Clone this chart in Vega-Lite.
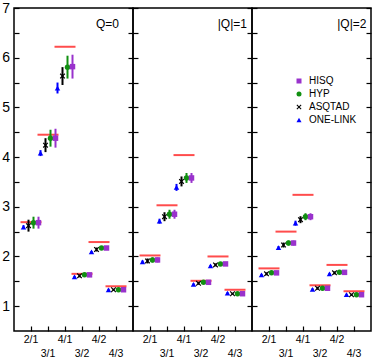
{
  "$schema": "https://vega.github.io/schema/vega-lite/v6.json",
  "padding": {"left": 0, "top": 0, "right": 0, "bottom": 0},
  "spacing": 0,
  "bounds": "flush",
  "config": {
    "font": "Liberation Sans",
    "view": {"stroke": "black", "strokeWidth": 1.5},
    "axis": {"labelColor": "black", "tickColor": "black", "tickWidth": 1.2, "grid": false, "domain": false, "title": null}
  },
  "resolve": {"scale": {"color": "independent", "shape": "independent"}, "legend": {"color": "independent", "shape": "independent"}},
  "datasets": {
    "cont": [
      {"p": "Q=0", "cat": "2/1", "v": 2.69}, {"p": "Q=0", "cat": "3/1", "v": 4.45}, {"p": "Q=0", "cat": "4/1", "v": 6.22},
      {"p": "Q=0", "cat": "3/2", "v": 1.65}, {"p": "Q=0", "cat": "4/2", "v": 2.29}, {"p": "Q=0", "cat": "4/3", "v": 1.40},
      {"p": "Q1", "cat": "2/1", "v": 2.02}, {"p": "Q1", "cat": "3/1", "v": 3.03}, {"p": "Q1", "cat": "4/1", "v": 4.04},
      {"p": "Q1", "cat": "3/2", "v": 1.51}, {"p": "Q1", "cat": "4/2", "v": 2.00}, {"p": "Q1", "cat": "4/3", "v": 1.33},
      {"p": "Q2", "cat": "2/1", "v": 1.76}, {"p": "Q2", "cat": "3/1", "v": 2.50}, {"p": "Q2", "cat": "4/1", "v": 3.24},
      {"p": "Q2", "cat": "3/2", "v": 1.42}, {"p": "Q2", "cat": "4/2", "v": 1.83}, {"p": "Q2", "cat": "4/3", "v": 1.30}
    ],
    "pts": [
      {"p": "Q=0", "cat": "2/1", "lat": "ONE-LINK", "v": 2.59, "lo": 2.55, "hi": 2.63},
      {"p": "Q=0", "cat": "2/1", "lat": "ASQTAD", "v": 2.62, "lo": 2.50, "hi": 2.74},
      {"p": "Q=0", "cat": "2/1", "lat": "HYP", "v": 2.68, "lo": 2.56, "hi": 2.80},
      {"p": "Q=0", "cat": "2/1", "lat": "HISQ", "v": 2.68, "lo": 2.56, "hi": 2.80},
      {"p": "Q=0", "cat": "3/1", "lat": "ONE-LINK", "v": 4.08, "lo": 4.02, "hi": 4.14},
      {"p": "Q=0", "cat": "3/1", "lat": "ASQTAD", "v": 4.24, "lo": 4.10, "hi": 4.38},
      {"p": "Q=0", "cat": "3/1", "lat": "HYP", "v": 4.38, "lo": 4.21, "hi": 4.55},
      {"p": "Q=0", "cat": "3/1", "lat": "HISQ", "v": 4.38, "lo": 4.19, "hi": 4.57},
      {"p": "Q=0", "cat": "4/1", "lat": "ONE-LINK", "v": 5.39, "lo": 5.28, "hi": 5.50},
      {"p": "Q=0", "cat": "4/1", "lat": "ASQTAD", "v": 5.63, "lo": 5.45, "hi": 5.81},
      {"p": "Q=0", "cat": "4/1", "lat": "HYP", "v": 5.81, "lo": 5.58, "hi": 6.04},
      {"p": "Q=0", "cat": "4/1", "lat": "HISQ", "v": 5.82, "lo": 5.58, "hi": 6.06},
      {"p": "Q=0", "cat": "3/2", "lat": "ONE-LINK", "v": 1.59, "lo": 1.57, "hi": 1.61},
      {"p": "Q=0", "cat": "3/2", "lat": "ASQTAD", "v": 1.61, "lo": 1.58, "hi": 1.64},
      {"p": "Q=0", "cat": "3/2", "lat": "HYP", "v": 1.63, "lo": 1.60, "hi": 1.66},
      {"p": "Q=0", "cat": "3/2", "lat": "HISQ", "v": 1.63, "lo": 1.60, "hi": 1.66},
      {"p": "Q=0", "cat": "4/2", "lat": "ONE-LINK", "v": 2.09, "lo": 2.07, "hi": 2.11},
      {"p": "Q=0", "cat": "4/2", "lat": "ASQTAD", "v": 2.14, "lo": 2.10, "hi": 2.18},
      {"p": "Q=0", "cat": "4/2", "lat": "HYP", "v": 2.17, "lo": 2.13, "hi": 2.21},
      {"p": "Q=0", "cat": "4/2", "lat": "HISQ", "v": 2.17, "lo": 2.13, "hi": 2.21},
      {"p": "Q=0", "cat": "4/3", "lat": "ONE-LINK", "v": 1.33, "lo": 1.31, "hi": 1.35},
      {"p": "Q=0", "cat": "4/3", "lat": "ASQTAD", "v": 1.33, "lo": 1.31, "hi": 1.35},
      {"p": "Q=0", "cat": "4/3", "lat": "HYP", "v": 1.33, "lo": 1.30, "hi": 1.36},
      {"p": "Q=0", "cat": "4/3", "lat": "HISQ", "v": 1.33, "lo": 1.30, "hi": 1.36},

      {"p": "Q1", "cat": "2/1", "lat": "ONE-LINK", "v": 1.89, "lo": 1.86, "hi": 1.92},
      {"p": "Q1", "cat": "2/1", "lat": "ASQTAD", "v": 1.91, "lo": 1.86, "hi": 1.96},
      {"p": "Q1", "cat": "2/1", "lat": "HYP", "v": 1.93, "lo": 1.88, "hi": 1.98},
      {"p": "Q1", "cat": "2/1", "lat": "HISQ", "v": 1.93, "lo": 1.88, "hi": 1.98},
      {"p": "Q1", "cat": "3/1", "lat": "ONE-LINK", "v": 2.71, "lo": 2.66, "hi": 2.76},
      {"p": "Q1", "cat": "3/1", "lat": "ASQTAD", "v": 2.80, "lo": 2.71, "hi": 2.89},
      {"p": "Q1", "cat": "3/1", "lat": "HYP", "v": 2.85, "lo": 2.76, "hi": 2.94},
      {"p": "Q1", "cat": "3/1", "lat": "HISQ", "v": 2.85, "lo": 2.76, "hi": 2.94},
      {"p": "Q1", "cat": "4/1", "lat": "ONE-LINK", "v": 3.39, "lo": 3.32, "hi": 3.46},
      {"p": "Q1", "cat": "4/1", "lat": "ASQTAD", "v": 3.51, "lo": 3.41, "hi": 3.61},
      {"p": "Q1", "cat": "4/1", "lat": "HYP", "v": 3.58, "lo": 3.48, "hi": 3.68},
      {"p": "Q1", "cat": "4/1", "lat": "HISQ", "v": 3.58, "lo": 3.48, "hi": 3.68},
      {"p": "Q1", "cat": "3/2", "lat": "ONE-LINK", "v": 1.44, "lo": 1.42, "hi": 1.46},
      {"p": "Q1", "cat": "3/2", "lat": "ASQTAD", "v": 1.46, "lo": 1.43, "hi": 1.49},
      {"p": "Q1", "cat": "3/2", "lat": "HYP", "v": 1.48, "lo": 1.45, "hi": 1.51},
      {"p": "Q1", "cat": "3/2", "lat": "HISQ", "v": 1.48, "lo": 1.45, "hi": 1.51},
      {"p": "Q1", "cat": "4/2", "lat": "ONE-LINK", "v": 1.81, "lo": 1.79, "hi": 1.83},
      {"p": "Q1", "cat": "4/2", "lat": "ASQTAD", "v": 1.83, "lo": 1.80, "hi": 1.86},
      {"p": "Q1", "cat": "4/2", "lat": "HYP", "v": 1.85, "lo": 1.82, "hi": 1.88},
      {"p": "Q1", "cat": "4/2", "lat": "HISQ", "v": 1.85, "lo": 1.82, "hi": 1.88},
      {"p": "Q1", "cat": "4/3", "lat": "ONE-LINK", "v": 1.26, "lo": 1.24, "hi": 1.28},
      {"p": "Q1", "cat": "4/3", "lat": "ASQTAD", "v": 1.25, "lo": 1.23, "hi": 1.27},
      {"p": "Q1", "cat": "4/3", "lat": "HYP", "v": 1.25, "lo": 1.22, "hi": 1.28},
      {"p": "Q1", "cat": "4/3", "lat": "HISQ", "v": 1.25, "lo": 1.22, "hi": 1.28},

      {"p": "Q2", "cat": "2/1", "lat": "ONE-LINK", "v": 1.63, "lo": 1.61, "hi": 1.65},
      {"p": "Q2", "cat": "2/1", "lat": "ASQTAD", "v": 1.65, "lo": 1.62, "hi": 1.68},
      {"p": "Q2", "cat": "2/1", "lat": "HYP", "v": 1.67, "lo": 1.64, "hi": 1.70},
      {"p": "Q2", "cat": "2/1", "lat": "HISQ", "v": 1.67, "lo": 1.64, "hi": 1.70},
      {"p": "Q2", "cat": "3/1", "lat": "ONE-LINK", "v": 2.18, "lo": 2.15, "hi": 2.21},
      {"p": "Q2", "cat": "3/1", "lat": "ASQTAD", "v": 2.23, "lo": 2.18, "hi": 2.28},
      {"p": "Q2", "cat": "3/1", "lat": "HYP", "v": 2.27, "lo": 2.22, "hi": 2.32},
      {"p": "Q2", "cat": "3/1", "lat": "HISQ", "v": 2.27, "lo": 2.22, "hi": 2.32},
      {"p": "Q2", "cat": "4/1", "lat": "ONE-LINK", "v": 2.67, "lo": 2.62, "hi": 2.72},
      {"p": "Q2", "cat": "4/1", "lat": "ASQTAD", "v": 2.74, "lo": 2.67, "hi": 2.81},
      {"p": "Q2", "cat": "4/1", "lat": "HYP", "v": 2.80, "lo": 2.73, "hi": 2.87},
      {"p": "Q2", "cat": "4/1", "lat": "HISQ", "v": 2.80, "lo": 2.73, "hi": 2.87},
      {"p": "Q2", "cat": "3/2", "lat": "ONE-LINK", "v": 1.34, "lo": 1.32, "hi": 1.36},
      {"p": "Q2", "cat": "3/2", "lat": "ASQTAD", "v": 1.36, "lo": 1.33, "hi": 1.39},
      {"p": "Q2", "cat": "3/2", "lat": "HYP", "v": 1.36, "lo": 1.33, "hi": 1.39},
      {"p": "Q2", "cat": "3/2", "lat": "HISQ", "v": 1.36, "lo": 1.33, "hi": 1.39},
      {"p": "Q2", "cat": "4/2", "lat": "ONE-LINK", "v": 1.65, "lo": 1.63, "hi": 1.67},
      {"p": "Q2", "cat": "4/2", "lat": "ASQTAD", "v": 1.67, "lo": 1.64, "hi": 1.70},
      {"p": "Q2", "cat": "4/2", "lat": "HYP", "v": 1.68, "lo": 1.65, "hi": 1.71},
      {"p": "Q2", "cat": "4/2", "lat": "HISQ", "v": 1.68, "lo": 1.65, "hi": 1.71},
      {"p": "Q2", "cat": "4/3", "lat": "ONE-LINK", "v": 1.23, "lo": 1.21, "hi": 1.25},
      {"p": "Q2", "cat": "4/3", "lat": "ASQTAD", "v": 1.23, "lo": 1.21, "hi": 1.25},
      {"p": "Q2", "cat": "4/3", "lat": "HYP", "v": 1.23, "lo": 1.20, "hi": 1.26},
      {"p": "Q2", "cat": "4/3", "lat": "HISQ", "v": 1.23, "lo": 1.20, "hi": 1.26}
    ]
  },
  "hconcat": [
    {
      "width": 119, "height": 323,
      "resolve": {"axis": {"y": "independent"}},
      "layer": [
        {
          "data": {"name": "cont"}, "transform": [{"filter": "datum.p == 'Q=0'"}],
          "mark": {"type": "tick", "color": "#ff0000", "size": 21, "thickness": 2},
          "encoding": {
            "x": {"field": "cat", "type": "nominal", "scale": {"type": "band", "domain": ["2/1","3/1","4/1","3/2","4/2","4/3"], "paddingInner": 0, "paddingOuter": 0.5},
              "axis": {"title": null, "bandPosition": 0.5, "tickSize": -5, "labelPadding": 8, "labelFontSize": 10.5, "labelLineHeight": 14, "labelAngle": 0, "labelExpr": "indexof(['3/1','3/2','4/3'], datum.value) >= 0 ? ['', datum.label] : datum.label"}},
            "y": {"field": "v", "type": "quantitative", "scale": {"domain": [0.5, 7], "nice": false, "zero": false},
              "axis": {"orient": "left", "title": null, "values": [1,1.5,2,2.5,3,3.5,4,4.5,5,5.5,6,6.5,7], "tickSize": -5, "labelPadding": 9.5, "labelFontSize": 14, "labelOverlap": false, "labelExpr": "datum.value % 1 == 0 ? format(datum.value, 'd') : ''"}}
          }
        },
        {
          "data": {"name": "pts"}, "transform": [{"filter": "datum.p == 'Q=0'"}],
          "mark": {"type": "rule", "strokeWidth": 2},
          "encoding": {
            "x": {"field": "cat", "type": "nominal"},
            "xOffset": {"field": "lat", "type": "nominal", "scale": {"type": "point", "padding": 0.2, "domain": ["ONE-LINK","ASQTAD","HYP","HISQ"]}},
            "y": {"field": "lo", "type": "quantitative", "axis": {"orient": "right", "title": null, "values": [1,1.5,2,2.5,3,3.5,4,4.5,5,5.5,6,6.5,7], "tickSize": -5, "labels": false}},
            "y2": {"field": "hi"},
            "stroke": {"field": "lat", "type": "nominal", "scale": {"domain": ["HISQ","HYP","ASQTAD","ONE-LINK"], "range": ["#9932cc","#119011","#000000","#0000ff"]}, "legend": null}
          }
        },
        {
          "data": {"name": "pts"}, "transform": [{"filter": "datum.p == 'Q=0'"}],
          "mark": {"type": "point", "filled": true, "opacity": 1, "size": 30},
          "encoding": {
            "x": {"field": "cat", "type": "nominal"},
            "xOffset": {"field": "lat", "type": "nominal"},
            "y": {"field": "v", "type": "quantitative", "axis": null},
            "color": {"field": "lat", "type": "nominal", "scale": {"domain": ["HISQ","HYP","ASQTAD","ONE-LINK"], "range": ["#9932cc","#119011","#000000","#0000ff"]}, "legend": null},
            "shape": {"field": "lat", "type": "nominal", "scale": {"domain": ["HISQ","HYP","ASQTAD","ONE-LINK"], "range": ["square","circle","M-0.7,-1L0,-0.3L0.7,-1L1,-0.7L0.3,0L1,0.7L0.7,1L0,0.3L-0.7,1L-1,0.7L-0.3,0L-1,-0.7Z","triangle-up"]}, "legend": null}
          }
        },
        {
          "data": {"values": [{"lab": "Q=0"}]},
          "mark": {"type": "text", "align": "right", "baseline": "middle", "fontSize": 12, "dx": 3, "color": "black"},
          "encoding": {
            "x": {"datum": "4/3", "type": "nominal"},
            "y": {"datum": 6.67, "type": "quantitative", "axis": null},
            "text": {"field": "lab"}
          }
        }
      ]
    },
    {
      "width": 119, "height": 323,
      "resolve": {"axis": {"y": "independent"}},
      "layer": [
        {
          "data": {"name": "cont"}, "transform": [{"filter": "datum.p == 'Q1'"}],
          "mark": {"type": "tick", "color": "#ff0000", "size": 21, "thickness": 2},
          "encoding": {
            "x": {"field": "cat", "type": "nominal", "scale": {"type": "band", "domain": ["2/1","3/1","4/1","3/2","4/2","4/3"], "paddingInner": 0, "paddingOuter": 0.5},
              "axis": {"title": null, "bandPosition": 0.5, "tickSize": -5, "labelPadding": 8, "labelFontSize": 10.5, "labelLineHeight": 14, "labelAngle": 0, "labelExpr": "indexof(['3/1','3/2','4/3'], datum.value) >= 0 ? ['', datum.label] : datum.label"}},
            "y": {"field": "v", "type": "quantitative", "scale": {"domain": [0.5, 7], "nice": false, "zero": false},
              "axis": {"orient": "left", "title": null, "values": [1,1.5,2,2.5,3,3.5,4,4.5,5,5.5,6,6.5,7], "tickSize": -5, "labels": false}}
          }
        },
        {
          "data": {"name": "pts"}, "transform": [{"filter": "datum.p == 'Q1'"}],
          "mark": {"type": "rule", "strokeWidth": 2},
          "encoding": {
            "x": {"field": "cat", "type": "nominal"},
            "xOffset": {"field": "lat", "type": "nominal", "scale": {"type": "point", "padding": 0.2, "domain": ["ONE-LINK","ASQTAD","HYP","HISQ"]}},
            "y": {"field": "lo", "type": "quantitative", "axis": {"orient": "right", "title": null, "values": [1,1.5,2,2.5,3,3.5,4,4.5,5,5.5,6,6.5,7], "tickSize": -5, "labels": false}},
            "y2": {"field": "hi"},
            "stroke": {"field": "lat", "type": "nominal", "scale": {"domain": ["HISQ","HYP","ASQTAD","ONE-LINK"], "range": ["#9932cc","#119011","#000000","#0000ff"]}, "legend": null}
          }
        },
        {
          "data": {"name": "pts"}, "transform": [{"filter": "datum.p == 'Q1'"}],
          "mark": {"type": "point", "filled": true, "opacity": 1, "size": 30},
          "encoding": {
            "x": {"field": "cat", "type": "nominal"},
            "xOffset": {"field": "lat", "type": "nominal"},
            "y": {"field": "v", "type": "quantitative", "axis": null},
            "color": {"field": "lat", "type": "nominal", "scale": {"domain": ["HISQ","HYP","ASQTAD","ONE-LINK"], "range": ["#9932cc","#119011","#000000","#0000ff"]}, "legend": null},
            "shape": {"field": "lat", "type": "nominal", "scale": {"domain": ["HISQ","HYP","ASQTAD","ONE-LINK"], "range": ["square","circle","M-0.7,-1L0,-0.3L0.7,-1L1,-0.7L0.3,0L1,0.7L0.7,1L0,0.3L-0.7,1L-1,0.7L-0.3,0L-1,-0.7Z","triangle-up"]}, "legend": null}
          }
        },
        {
          "data": {"values": [{"lab": "|Q|=1"}]},
          "mark": {"type": "text", "align": "right", "baseline": "middle", "fontSize": 12, "dx": 12, "color": "black"},
          "encoding": {
            "x": {"datum": "4/3", "type": "nominal"},
            "y": {"datum": 6.67, "type": "quantitative", "axis": null},
            "text": {"field": "lab"}
          }
        }
      ]
    },
    {
      "width": 119, "height": 323,
      "resolve": {"axis": {"y": "independent"}},
      "layer": [
        {
          "data": {"name": "cont"}, "transform": [{"filter": "datum.p == 'Q2'"}],
          "mark": {"type": "tick", "color": "#ff0000", "size": 21, "thickness": 2},
          "encoding": {
            "x": {"field": "cat", "type": "nominal", "scale": {"type": "band", "domain": ["2/1","3/1","4/1","3/2","4/2","4/3"], "paddingInner": 0, "paddingOuter": 0.5},
              "axis": {"title": null, "bandPosition": 0.5, "tickSize": -5, "labelPadding": 8, "labelFontSize": 10.5, "labelLineHeight": 14, "labelAngle": 0, "labelExpr": "indexof(['3/1','3/2','4/3'], datum.value) >= 0 ? ['', datum.label] : datum.label"}},
            "y": {"field": "v", "type": "quantitative", "scale": {"domain": [0.5, 7], "nice": false, "zero": false},
              "axis": {"orient": "left", "title": null, "values": [1,1.5,2,2.5,3,3.5,4,4.5,5,5.5,6,6.5,7], "tickSize": -5, "labels": false}}
          }
        },
        {
          "data": {"name": "pts"}, "transform": [{"filter": "datum.p == 'Q2'"}],
          "mark": {"type": "rule", "strokeWidth": 2},
          "encoding": {
            "x": {"field": "cat", "type": "nominal"},
            "xOffset": {"field": "lat", "type": "nominal", "scale": {"type": "point", "padding": 0.2, "domain": ["ONE-LINK","ASQTAD","HYP","HISQ"]}},
            "y": {"field": "lo", "type": "quantitative", "axis": {"orient": "right", "title": null, "values": [1,1.5,2,2.5,3,3.5,4,4.5,5,5.5,6,6.5,7], "tickSize": -5, "labels": false}},
            "y2": {"field": "hi"},
            "stroke": {"field": "lat", "type": "nominal", "scale": {"domain": ["HISQ","HYP","ASQTAD","ONE-LINK"], "range": ["#9932cc","#119011","#000000","#0000ff"]}, "legend": null}
          }
        },
        {
          "data": {"name": "pts"}, "transform": [{"filter": "datum.p == 'Q2'"}],
          "mark": {"type": "point", "filled": true, "opacity": 1, "size": 30},
          "encoding": {
            "x": {"field": "cat", "type": "nominal"},
            "xOffset": {"field": "lat", "type": "nominal"},
            "y": {"field": "v", "type": "quantitative", "axis": null},
            "color": {"field": "lat", "type": "nominal", "scale": {"domain": ["HISQ","HYP","ASQTAD","ONE-LINK"], "range": ["#9932cc","#119011","#000000","#0000ff"]},
              "legend": {"title": null, "orient": "none", "legendX": 42, "legendY": 68, "labelFontSize": 10, "symbolSize": 25, "rowPadding": 3, "labelOffset": 5, "padding": 0, "labelColor": "black"}},
            "shape": {"field": "lat", "type": "nominal", "scale": {"domain": ["HISQ","HYP","ASQTAD","ONE-LINK"], "range": ["square","circle","M-0.7,-1L0,-0.3L0.7,-1L1,-0.7L0.3,0L1,0.7L0.7,1L0,0.3L-0.7,1L-1,0.7L-0.3,0L-1,-0.7Z","triangle-up"]},
              "legend": {"title": null, "orient": "none", "legendX": 42, "legendY": 68, "labelFontSize": 10, "symbolSize": 25, "rowPadding": 3, "labelOffset": 5, "padding": 0, "labelColor": "black"}}
          }
        },
        {
          "data": {"values": [{"lab": "|Q|=2"}]},
          "mark": {"type": "text", "align": "right", "baseline": "middle", "fontSize": 12, "dx": 12.5, "color": "black"},
          "encoding": {
            "x": {"datum": "4/3", "type": "nominal"},
            "y": {"datum": 6.67, "type": "quantitative", "axis": null},
            "text": {"field": "lab"}
          }
        }
      ]
    }
  ]
}
